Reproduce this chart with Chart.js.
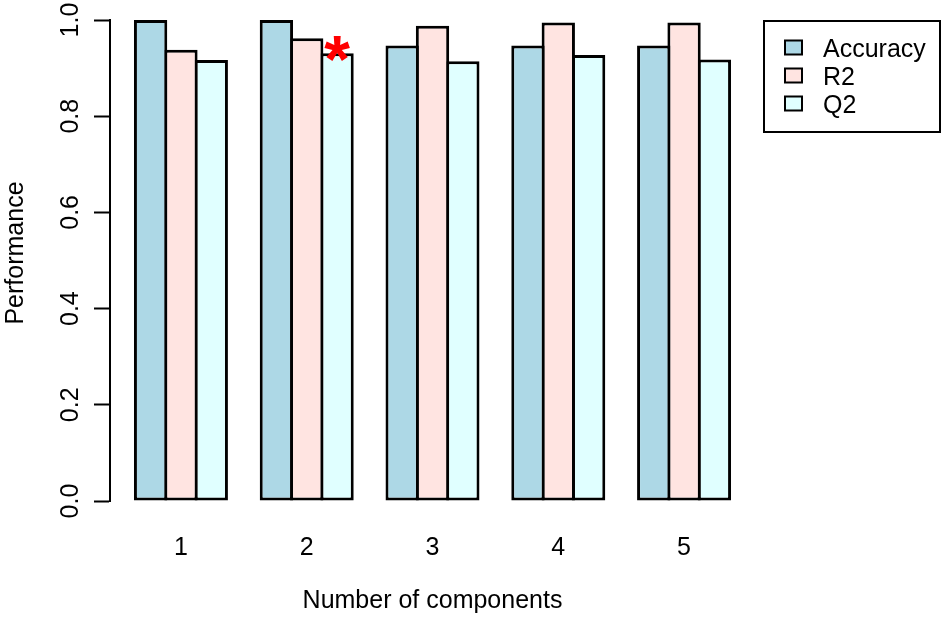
<!DOCTYPE html>
<html><head><meta charset="utf-8">
<script src="https://cdn.jsdelivr.net/npm/chart.js@4/dist/chart.umd.min.js"></script>
<style>html,body{margin:0;padding:0;background:#fff;}#wrap{width:945px;height:619px;}</style>
</head><body><div id="wrap"><canvas id="c" width="945" height="619"></canvas></div>
<script>
// ---- data ----
const categories = ['1', '2', '3', '4', '5'];
const componentX = [1, 2, 3, 4, 5];
const accuracy = [1.0, 1.0, 0.947, 0.947, 0.947];
const r2 = [0.938, 0.962, 0.988, 0.995, 0.995];
const q2 = [0.917, 0.931, 0.914, 0.927, 0.918];
const yTickValues = [0, 0.2, 0.4, 0.6, 0.8, 1.0];
const yTickLabels = ['0.0', '0.2', '0.4', '0.6', '0.8', '1.0'];
const seriesNames = ['Accuracy', 'R2', 'Q2'];
const seriesColors = ['#ADD8E6', '#FFE4E1', '#E0FFFF'];
const markedSeries = 2;   // Q2
const markedIndex = 1;    // component 2
const xTitle = 'Number of components';
const yTitle = 'Performance';

const FONT = '"Liberation Sans", Arial, Helvetica, sans-serif';
const series = [accuracy, r2, q2];

const extras = {
  id: 'extras',
  afterDraw(chart) {
    const ctx = chart.ctx;
    const ys = chart.scales.y;
    ctx.save();
    ctx.fillStyle = '#000';
    ctx.font = '25px ' + FONT;
    ctx.textAlign = 'center';
    ctx.textBaseline = 'alphabetic';
    yTickValues.forEach((v, i) => {
      const py = ys.getPixelForValue(v);
      ctx.save();
      ctx.translate(77.5, py);
      ctx.rotate(-Math.PI / 2);
      ctx.fillText(yTickLabels[i], 0, 0);
      ctx.restore();
    });
    ctx.save();
    ctx.translate(23, 253);
    ctx.rotate(-Math.PI / 2);
    ctx.fillText(yTitle, 0, 0);
    ctx.restore();

    const bar = chart.getDatasetMeta(markedSeries).data[markedIndex];
    ctx.fillStyle = '#FF0000';
    ctx.font = 'bold 66px ' + FONT;
    ctx.textAlign = 'center';
    ctx.textBaseline = 'alphabetic';
    ctx.fillText('*', bar.x, bar.y + 29);

    const lx = 764, ly = 21, lw = 176, lh = 111;
    ctx.lineWidth = 2;
    ctx.strokeStyle = '#000';
    ctx.strokeRect(lx, ly, lw, lh);
    chart.data.datasets.forEach((ds, i) => {
      const cy = 47.5 + i * 28;
      ctx.fillStyle = ds.backgroundColor;
      ctx.fillRect(785, cy - 7, 17, 14);
      ctx.lineWidth = 2;
      ctx.strokeRect(785, cy - 7, 17, 14);
      ctx.fillStyle = '#000';
      ctx.font = '25px ' + FONT;
      ctx.textAlign = 'left';
      ctx.textBaseline = 'alphabetic';
      ctx.fillText(ds.label, 823, cy + 9);
    });
    ctx.restore();
  }
};

new Chart(document.getElementById('c'), {
  type: 'bar',
  data: {
    datasets: seriesNames.map((name, i) => ({
      label: name,
      data: componentX.map((x, j) => ({ x: x, y: series[i][j] })),
      backgroundColor: seriesColors[i],
      borderColor: '#000',
      borderWidth: 3,
      borderSkipped: false,
      categoryPercentage: 0.7234,
      barPercentage: 1.099
    }))
  },
  options: {
    responsive: false,
    animation: false,
    devicePixelRatio: 1,
    layout: { padding: { left: 0, right: 190, top: 20, bottom: 0 } },
    plugins: { legend: { display: false }, tooltip: { enabled: false } },
    scales: {
      x: {
        type: 'linear',
        offset: false,
        min: 0.436,
        max: 5.564,
        afterBuildTicks(scale) { scale.ticks = componentX.map(v => ({ value: v })); },
        afterFit(scale) { scale.height = 118; },
        ticks: {
          color: '#000',
          font: { family: FONT, size: 25 },
          padding: 32,
          maxRotation: 0,
          autoSkip: false,
          callback: (v) => categories[componentX.indexOf(v)]
        },
        grid: { display: false, drawTicks: false, offset: false },
        border: { display: false },
        title: {
          display: true,
          text: xTitle,
          color: '#000',
          font: { family: FONT, size: 25 },
          padding: { top: 0, bottom: 3 }
        }
      },
      y: {
        min: 0,
        max: 1,
        afterBuildTicks(scale) { scale.ticks = yTickValues.map(v => ({ value: v })); },
        afterFit(scale) { scale.width = 110; },
        ticks: { display: false },
        grid: {
          display: true,
          drawOnChartArea: false,
          drawTicks: true,
          tickLength: 16,
          tickColor: '#000',
          tickWidth: 2,
          color: '#000'
        },
        border: { display: true, color: '#000', width: 2 }
      }
    }
  },
  plugins: [extras]
});
</script>
</body></html>
